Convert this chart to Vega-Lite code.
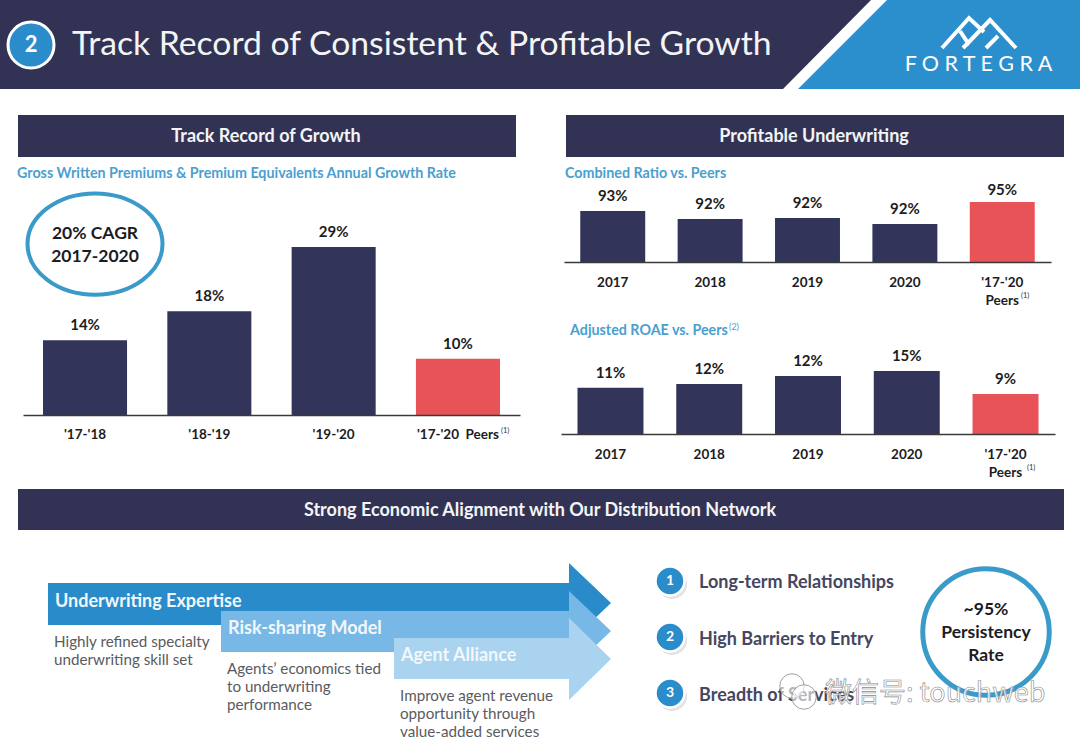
{
"$schema":"https://vega.github.io/schema/vega-lite/v6.json",
"width":1080,"height":741,"padding":0,"autosize":"none","background":"#ffffff",
"config":{"view":{"stroke":null},"text":{"font":"Lato"}},
"resolve":{"scale":{"x":"independent","y":"independent","color":"independent"},"axis":{"x":"independent","y":"independent"}},
"layer":[
{"encoding":{
  "x":{"field":"x","type":"quantitative","scale":{"domain":[0,1080],"range":[0,1080]},"axis":null},
  "y":{"field":"y","type":"quantitative","scale":{"domain":[741,0],"range":[741,0]},"axis":null}},
 "layer":[
 {"data":{"values":[{"x":0,"y":0,"y2":89},{"x":783,"y":0,"y2":89},{"x":871,"y":0,"y2":0}]},
  "mark":{"type":"area","color":"#323354","opacity":1},"encoding":{"y2":{"field":"y2"}}},
 {"data":{"values":[{"x":798,"y":89,"y2":89},{"x":887,"y":0,"y2":89},{"x":1080,"y":0,"y2":89}]},
  "mark":{"type":"area","color":"#2b8fce","opacity":1},"encoding":{"y2":{"field":"y2"}}},
 {"data":{"values":[{"x":48,"y":583,"y2":625},{"x":569,"y":583,"y2":625},{"x":569,"y":563,"y2":643},{"x":611,"y":603,"y2":603}]},
  "mark":{"type":"area","color":"#2a8bca","opacity":1},"encoding":{"y2":{"field":"y2"}}},
 {"data":{"values":[{"x":221,"y":611,"y2":652},{"x":569,"y":611,"y2":652},{"x":569,"y":591,"y2":671},{"x":611,"y":631,"y2":631}]},
  "mark":{"type":"area","color":"#78b8e6","opacity":1},"encoding":{"y2":{"field":"y2"}}},
 {"data":{"values":[{"x":394,"y":638,"y2":679},{"x":569,"y":638,"y2":679},{"x":569,"y":618,"y2":700},{"x":611,"y":659,"y2":659}]},
  "mark":{"type":"area","color":"#a9d3ef","opacity":1},"encoding":{"y2":{"field":"y2"}}},
 {"data":{"values":[{"x":18,"x2":516,"y":115,"y2":157},{"x":566,"x2":1064,"y":115,"y2":157},{"x":18,"x2":1064,"y":489,"y2":530}]},
  "mark":{"type":"rect","color":"#323354"},"encoding":{"x2":{"field":"x2"},"y2":{"field":"y2"}}},
 {"data":{"values":[{"x":33,"y":48},{"x":672,"y":584},{"x":672,"y":640},{"x":672,"y":696}]},
  "mark":{"type":"point","filled":true,"color":"#c9c9d2","opacity":0.55,"size":900}},
 {"data":{"values":[{"x":31,"y":45}]},"mark":{"type":"point","fill":"#2b8ccb","stroke":"#ffffff","strokeWidth":3,"opacity":1,"size":2116}},
 {"data":{"values":[{"x":670,"y":581},{"x":670,"y":637},{"x":670,"y":693}]},"mark":{"type":"point","fill":"#2b8ccb","stroke":"#ffffff","strokeWidth":2.5,"opacity":1,"size":841}},
 {"data":{"values":[{"x":95,"y":244}]},"mark":{"type":"point","shape":"M-1,0A1,0.75,0,1,1,1,0A1,0.75,0,1,1,-1,0Z","fill":"#ffffff","stroke":"#3a9ac9","strokeWidth":4,"opacity":1,"size":18225}},
 {"data":{"values":[{"x":986,"y":632}]},"mark":{"type":"point","fill":"#ffffff","stroke":"#3a9ac9","strokeWidth":5,"opacity":1,"size":16000}},
 {"data":{"values":[
   {"part":"a","i":1,"x":942,"y":48},{"part":"a","i":2,"x":969,"y":18},{"part":"a","i":3,"x":984,"y":32},
   {"part":"b","i":1,"x":960,"y":31},{"part":"b","i":2,"x":968,"y":43},{"part":"b","i":3,"x":990,"y":20},{"part":"b","i":4,"x":1016,"y":48},
   {"part":"c","i":1,"x":986,"y":48},{"part":"c","i":2,"x":998,"y":36},
   {"part":"d","i":1,"x":968,"y":43},{"part":"d","i":2,"x":963,"y":48}]},
  "mark":{"type":"line","color":"#ffffff","strokeWidth":4,"strokeJoin":"miter"},
  "encoding":{"detail":{"field":"part"},"order":{"field":"i"}}},
 {"data":{"values":[{"x":72,"y":44.5,"text":"Track Record of Consistent & Profitable Growth"}]},
  "mark":{"type":"text","font":"Lato","fontSize":33.7,"color":"#f4f4f6","align":"left"},"encoding":{"text":{"field":"text"}}},
 {"data":{"values":[{"x":978.5,"y":65,"text":"F O R T E G R A"}]},
  "mark":{"type":"text","font":"Lato","fontSize":21.5,"color":"#ffffff","align":"center"},"encoding":{"text":{"field":"text"}}},
 {"data":{"values":[{"x":31,"y":45,"text":"2"}]},
  "mark":{"type":"text","font":"Lato","fontWeight":"bold","fontSize":22,"color":"#ffffff"},"encoding":{"text":{"field":"text"}}},
 {"data":{"values":[{"x":670,"y":581,"text":"1"},{"x":670,"y":637,"text":"2"},{"x":670,"y":693,"text":"3"}]},
  "mark":{"type":"text","font":"Lato","fontWeight":"bold","fontSize":14,"color":"#ffffff"},"encoding":{"text":{"field":"text"}}},
 {"data":{"values":[{"x":266,"y":137,"text":"Track Record of Growth"},{"x":814,"y":137,"text":"Profitable Underwriting"},{"x":540,"y":511,"text":"Strong Economic Alignment with Our Distribution Network"}]},
  "mark":{"type":"text","font":"Lato","fontWeight":"bold","fontSize":18,"color":"#f4f4f6"},"encoding":{"text":{"field":"text"}}},
 {"data":{"values":[{"x":17,"y":174,"text":"Gross Written Premiums & Premium Equivalents Annual Growth Rate"},{"x":565,"y":174,"text":"Combined Ratio vs. Peers"},{"x":570,"y":331,"text":"Adjusted ROAE vs. Peers"}]},
  "mark":{"type":"text","font":"Lato","fontWeight":"bold","fontSize":14.3,"color":"#4a9fd0","align":"left"},"encoding":{"text":{"field":"text"}}},
 {"data":{"values":[{"x":729,"y":327,"text":"(2)"}]},
  "mark":{"type":"text","font":"Lato","fontSize":9,"color":"#4a9fd0","align":"left"},"encoding":{"text":{"field":"text"}}},
 {"data":{"values":[{"x":501,"y":431,"text":"(1)"},{"x":1021,"y":296,"text":"(1)"},{"x":1027,"y":468,"text":"(1)"}]},
  "mark":{"type":"text","font":"Lato","fontSize":7.5,"color":"#333333","align":"left"},"encoding":{"text":{"field":"text"}}},
 {"data":{"values":[{"x":95,"y":234,"text":"20% CAGR"},{"x":95,"y":257,"text":"2017-2020"},{"x":986,"y":610,"text":"~95%"},{"x":986,"y":633,"text":"Persistency"},{"x":986,"y":656,"text":"Rate"}]},
  "mark":{"type":"text","font":"Lato","fontWeight":"bold","fontSize":17.5,"color":"#1c1c22"},"encoding":{"text":{"field":"text"}}},
 {"data":{"values":[{"x":55,"y":602,"text":"Underwriting Expertise"},{"x":228,"y":629,"text":"Risk-sharing Model"},{"x":401,"y":656,"text":"Agent Alliance"}]},
  "mark":{"type":"text","font":"Lato","fontWeight":"bold","fontSize":18,"color":"#f2f7fb","align":"left"},"encoding":{"text":{"field":"text"}}},
 {"data":{"values":[{"x":54,"y":642,"text":"Highly refined specialty"},{"x":54,"y":660,"text":"underwriting skill set"},{"x":227,"y":669,"text":"Agents’ economics tied"},{"x":227,"y":687,"text":"to underwriting"},{"x":227,"y":705,"text":"performance"},{"x":400,"y":696,"text":"Improve agent revenue"},{"x":400,"y":714,"text":"opportunity through"},{"x":400,"y":732,"text":"value-added services"}]},
  "mark":{"type":"text","font":"Lato","fontSize":15.2,"color":"#5a5a60","align":"left"},"encoding":{"text":{"field":"text"}}},
 {"data":{"values":[{"x":699,"y":583,"text":"Long-term Relationships"},{"x":699,"y":640,"text":"High Barriers to Entry"},{"x":699,"y":696,"text":"Breadth of Services"}]},
  "mark":{"type":"text","font":"Lato","fontWeight":"bold","fontSize":18,"color":"#45465f","align":"left"},"encoding":{"text":{"field":"text"}}},
 {"data":{"values":[{"x":792,"y":686},{"x":804,"y":697}]},
  "mark":{"type":"point","fill":"#ffffff","fillOpacity":0.6,"stroke":"#a0a0a0","strokeWidth":1,"opacity":1,"size":600}},
 {"data":{"values":[{"x":825,"y":694,"text":"微信号: touchweb"}]},
  "mark":{"type":"text","font":"Noto Sans CJK SC","fontSize":27,"color":"#ffffff","fillOpacity":0.8,"stroke":"#8a8a8a","strokeWidth":0.6,"align":"left"},"encoding":{"text":{"field":"text"}}}
 ]},
{"data":{"values":[{"period":"'17-'18","group":"Fortegra","rate":12.9,"label":"14%"},{"period":"'18-'19","group":"Fortegra","rate":17.9,"label":"18%"},{"period":"'19-'20","group":"Fortegra","rate":29,"label":"29%"},{"period":"'17-'20 Peers","group":"Peers","rate":9.7,"label":"10%"}]},
 "encoding":{
  "x":{"field":"period","type":"nominal","sort":null,"title":null,"scale":{"type":"band","range":[23,520],"paddingInner":0.324,"paddingOuter":0.161},
    "axis":{"orient":"bottom","offset":-326,"ticks":false,"labelAngle":0,"labelPadding":12,"labelFont":"Lato","labelFontWeight":"bold","labelFontSize":13.5,"labelColor":"#1c1c22","domainColor":"#3a3a3a","domainWidth":1.5,"zindex":1,"labelExpr":"replace(datum.label,' Peers','\u00a0\u00a0Peers')"}},
  "y":{"field":"rate","type":"quantitative","scale":{"domain":[0,29],"range":[415,247],"nice":false},"axis":null}},
 "layer":[
  {"mark":{"type":"bar"},"encoding":{"color":{"field":"group","type":"nominal","legend":null,"scale":{"domain":["Fortegra","Peers"],"range":["#32345a","#e85358"]}}}},
  {"mark":{"type":"text","font":"Lato","fontWeight":"bold","fontSize":15,"color":"#1c1c22","dy":-15},"encoding":{"text":{"field":"label"}}}
 ]},
{"data":{"values":[{"period":"2017","group":"Fortegra","ratio":93.49,"label":"93%"},{"period":"2018","group":"Fortegra","ratio":92.34,"label":"92%"},{"period":"2019","group":"Fortegra","ratio":92.49,"label":"92%"},{"period":"2020","group":"Fortegra","ratio":91.63,"label":"92%"},{"period":"'17-'20 Peers","group":"Peers","ratio":94.77,"label":"95%"}]},
 "encoding":{
  "x":{"field":"period","type":"nominal","sort":null,"title":null,"scale":{"type":"band","range":[564,1051],"paddingInner":0.333,"paddingOuter":0.167},
    "axis":{"orient":"bottom","offset":-479,"ticks":false,"labelAngle":0,"labelPadding":13,"labelLineHeight":18,"labelFont":"Lato","labelFontWeight":"bold","labelFontSize":13.5,"labelColor":"#1c1c22","domainColor":"#3a3a3a","domainWidth":1.5,"zindex":1,"labelExpr":"indexof(datum.label,'Peers')>=0 ? split(datum.label,' ') : datum.label"}},
  "y":{"field":"ratio","type":"quantitative","scale":{"domain":[86.2,96.2],"range":[262,192],"nice":false},"axis":null}},
 "layer":[
  {"mark":{"type":"bar"},"encoding":{"y2":{"datum":86.2},"color":{"field":"group","type":"nominal","legend":null,"scale":{"domain":["Fortegra","Peers"],"range":["#32345a","#e85358"]}}}},
  {"transform":[{"filter":"datum.group=='Fortegra'"}],"mark":{"type":"text","font":"Lato","fontWeight":"bold","fontSize":15,"color":"#1c1c22","dy":-15},"encoding":{"text":{"field":"label"}}},
  {"transform":[{"filter":"datum.group=='Peers'"}],"mark":{"type":"text","font":"Lato","fontWeight":"bold","fontSize":15,"color":"#1c1c22","dy":-12},"encoding":{"text":{"field":"label"}}}
 ]},
{"data":{"values":[{"period":"2017","group":"Fortegra","roae":11.0,"label":"11%"},{"period":"2018","group":"Fortegra","roae":11.9,"label":"12%"},{"period":"2019","group":"Fortegra","roae":13.8,"label":"12%"},{"period":"2020","group":"Fortegra","roae":15,"label":"15%"},{"period":"'17-'20 Peers","group":"Peers","roae":9.5,"label":"9%"}]},
 "encoding":{
  "x":{"field":"period","type":"nominal","sort":null,"title":null,"scale":{"type":"band","range":[561,1055],"paddingInner":0.332,"paddingOuter":0.167},
    "axis":{"orient":"bottom","offset":-307,"ticks":false,"labelAngle":0,"labelPadding":13,"labelLineHeight":18,"labelFont":"Lato","labelFontWeight":"bold","labelFontSize":13.5,"labelColor":"#1c1c22","domainColor":"#3a3a3a","domainWidth":1.5,"zindex":1,"labelExpr":"indexof(datum.label,'Peers')>=0 ? split(datum.label,' ') : datum.label"}},
  "y":{"field":"roae","type":"quantitative","scale":{"domain":[0,20],"range":[434,350],"nice":false},"axis":null}},
 "layer":[
  {"mark":{"type":"bar"},"encoding":{"color":{"field":"group","type":"nominal","legend":null,"scale":{"domain":["Fortegra","Peers"],"range":["#32345a","#e85358"]}}}},
  {"mark":{"type":"text","font":"Lato","fontWeight":"bold","fontSize":15,"color":"#1c1c22","dy":-15},"encoding":{"text":{"field":"label"}}}
 ]}
]}
